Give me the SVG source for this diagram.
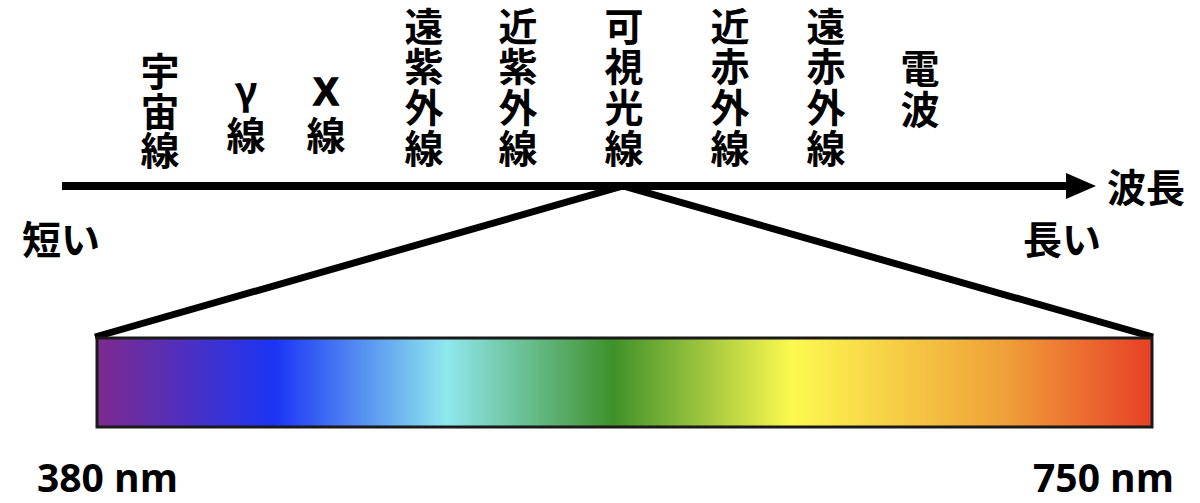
<svg xmlns="http://www.w3.org/2000/svg" width="1200" height="503" viewBox="0 0 1200 503">
<style>
.jp{font-family:"Noto Sans CJK JP","Noto Sans CJK SC",sans-serif;font-size:39px;font-weight:700;fill:#000;text-anchor:middle}
.side{font-family:"Noto Sans CJK JP","Noto Sans CJK SC",sans-serif;font-size:39px;font-weight:700;fill:#000}
.nm{font-family:"Open Sans","Liberation Sans",sans-serif;font-size:39px;font-weight:700;fill:#000}
.lat{font-family:"Liberation Sans",Arial,sans-serif;font-weight:700;fill:#000;text-anchor:middle}
.ln{stroke:#000;fill:none}
</style>
<defs>
<linearGradient id="spec" x1="0" y1="0" x2="1" y2="0">
<stop offset="0" stop-color="#7E2A8C"/>
<stop offset="0.169" stop-color="#1B35F5"/>
<stop offset="0.331" stop-color="#8FE8EE"/>
<stop offset="0.489" stop-color="#3F912B"/>
<stop offset="0.659" stop-color="#FDF950"/>
<stop offset="0.86" stop-color="#F0A03A"/>
<stop offset="1" stop-color="#E83F26"/>
</linearGradient>
</defs>
<rect width="1200" height="503" fill="#fff"/>
<g id="connectors">
<line class="ln" x1="62" y1="186" x2="1070" y2="186" stroke-width="8"/>
<polygon points="1066,173 1096,186 1066,199" fill="#000"/>
<polyline class="ln" points="95,337 623,186 1153,337" stroke-width="7" stroke-linejoin="miter"/>
</g>
<g id="spectrum">
<rect x="97" y="338" width="1055" height="89" fill="url(#spec)" stroke="#1a1a1a" stroke-width="3"/>
</g>
<g id="cosmic-ray">
<text class="jp" x="160" y="86">宇</text>
<text class="jp" x="160" y="126">宙</text>
<text class="jp" x="160" y="165">線</text>
</g>
<g id="gamma-ray">
<text class="jp" x="246" y="105">γ</text>
<text class="jp" x="246" y="150">線</text>
</g>
<g id="x-ray">
<text class="lat" x="326" y="105" font-size="38" stroke="#000" stroke-width="1.5">X</text>
<text class="jp" x="326" y="150">線</text>
</g>
<g id="far-uv">
<text class="jp" x="424" y="41">遠</text>
<text class="jp" x="424" y="81">紫</text>
<text class="jp" x="424" y="122">外</text>
<text class="jp" x="424" y="163">線</text>
</g>
<g id="near-uv">
<text class="jp" x="518" y="41">近</text>
<text class="jp" x="518" y="81">紫</text>
<text class="jp" x="518" y="122">外</text>
<text class="jp" x="518" y="163">線</text>
</g>
<g id="visible">
<text class="jp" x="624" y="41">可</text>
<text class="jp" x="624" y="81">視</text>
<text class="jp" x="624" y="122">光</text>
<text class="jp" x="624" y="163">線</text>
</g>
<g id="near-ir">
<text class="jp" x="730" y="41">近</text>
<text class="jp" x="730" y="81">赤</text>
<text class="jp" x="730" y="122">外</text>
<text class="jp" x="730" y="163">線</text>
</g>
<g id="far-ir">
<text class="jp" x="826" y="41">遠</text>
<text class="jp" x="826" y="81">赤</text>
<text class="jp" x="826" y="122">外</text>
<text class="jp" x="826" y="163">線</text>
</g>
<g id="radio">
<text class="jp" x="920" y="83">電</text>
<text class="jp" x="920" y="124">波</text>
</g>
<g id="wavelength-label">
<text class="side" x="1107" y="202">波長</text>
</g>
<g id="short-label">
<text class="side" x="22" y="254">短い</text>
</g>
<g id="long-label">
<text class="side" x="1023" y="254">長い</text>
</g>
<g id="nm380">
<text class="nm" x="37" y="492">380 nm</text>
</g>
<g id="nm750">
<text class="nm" x="1174" y="492" text-anchor="end">750 nm</text>
</g>
</svg>
